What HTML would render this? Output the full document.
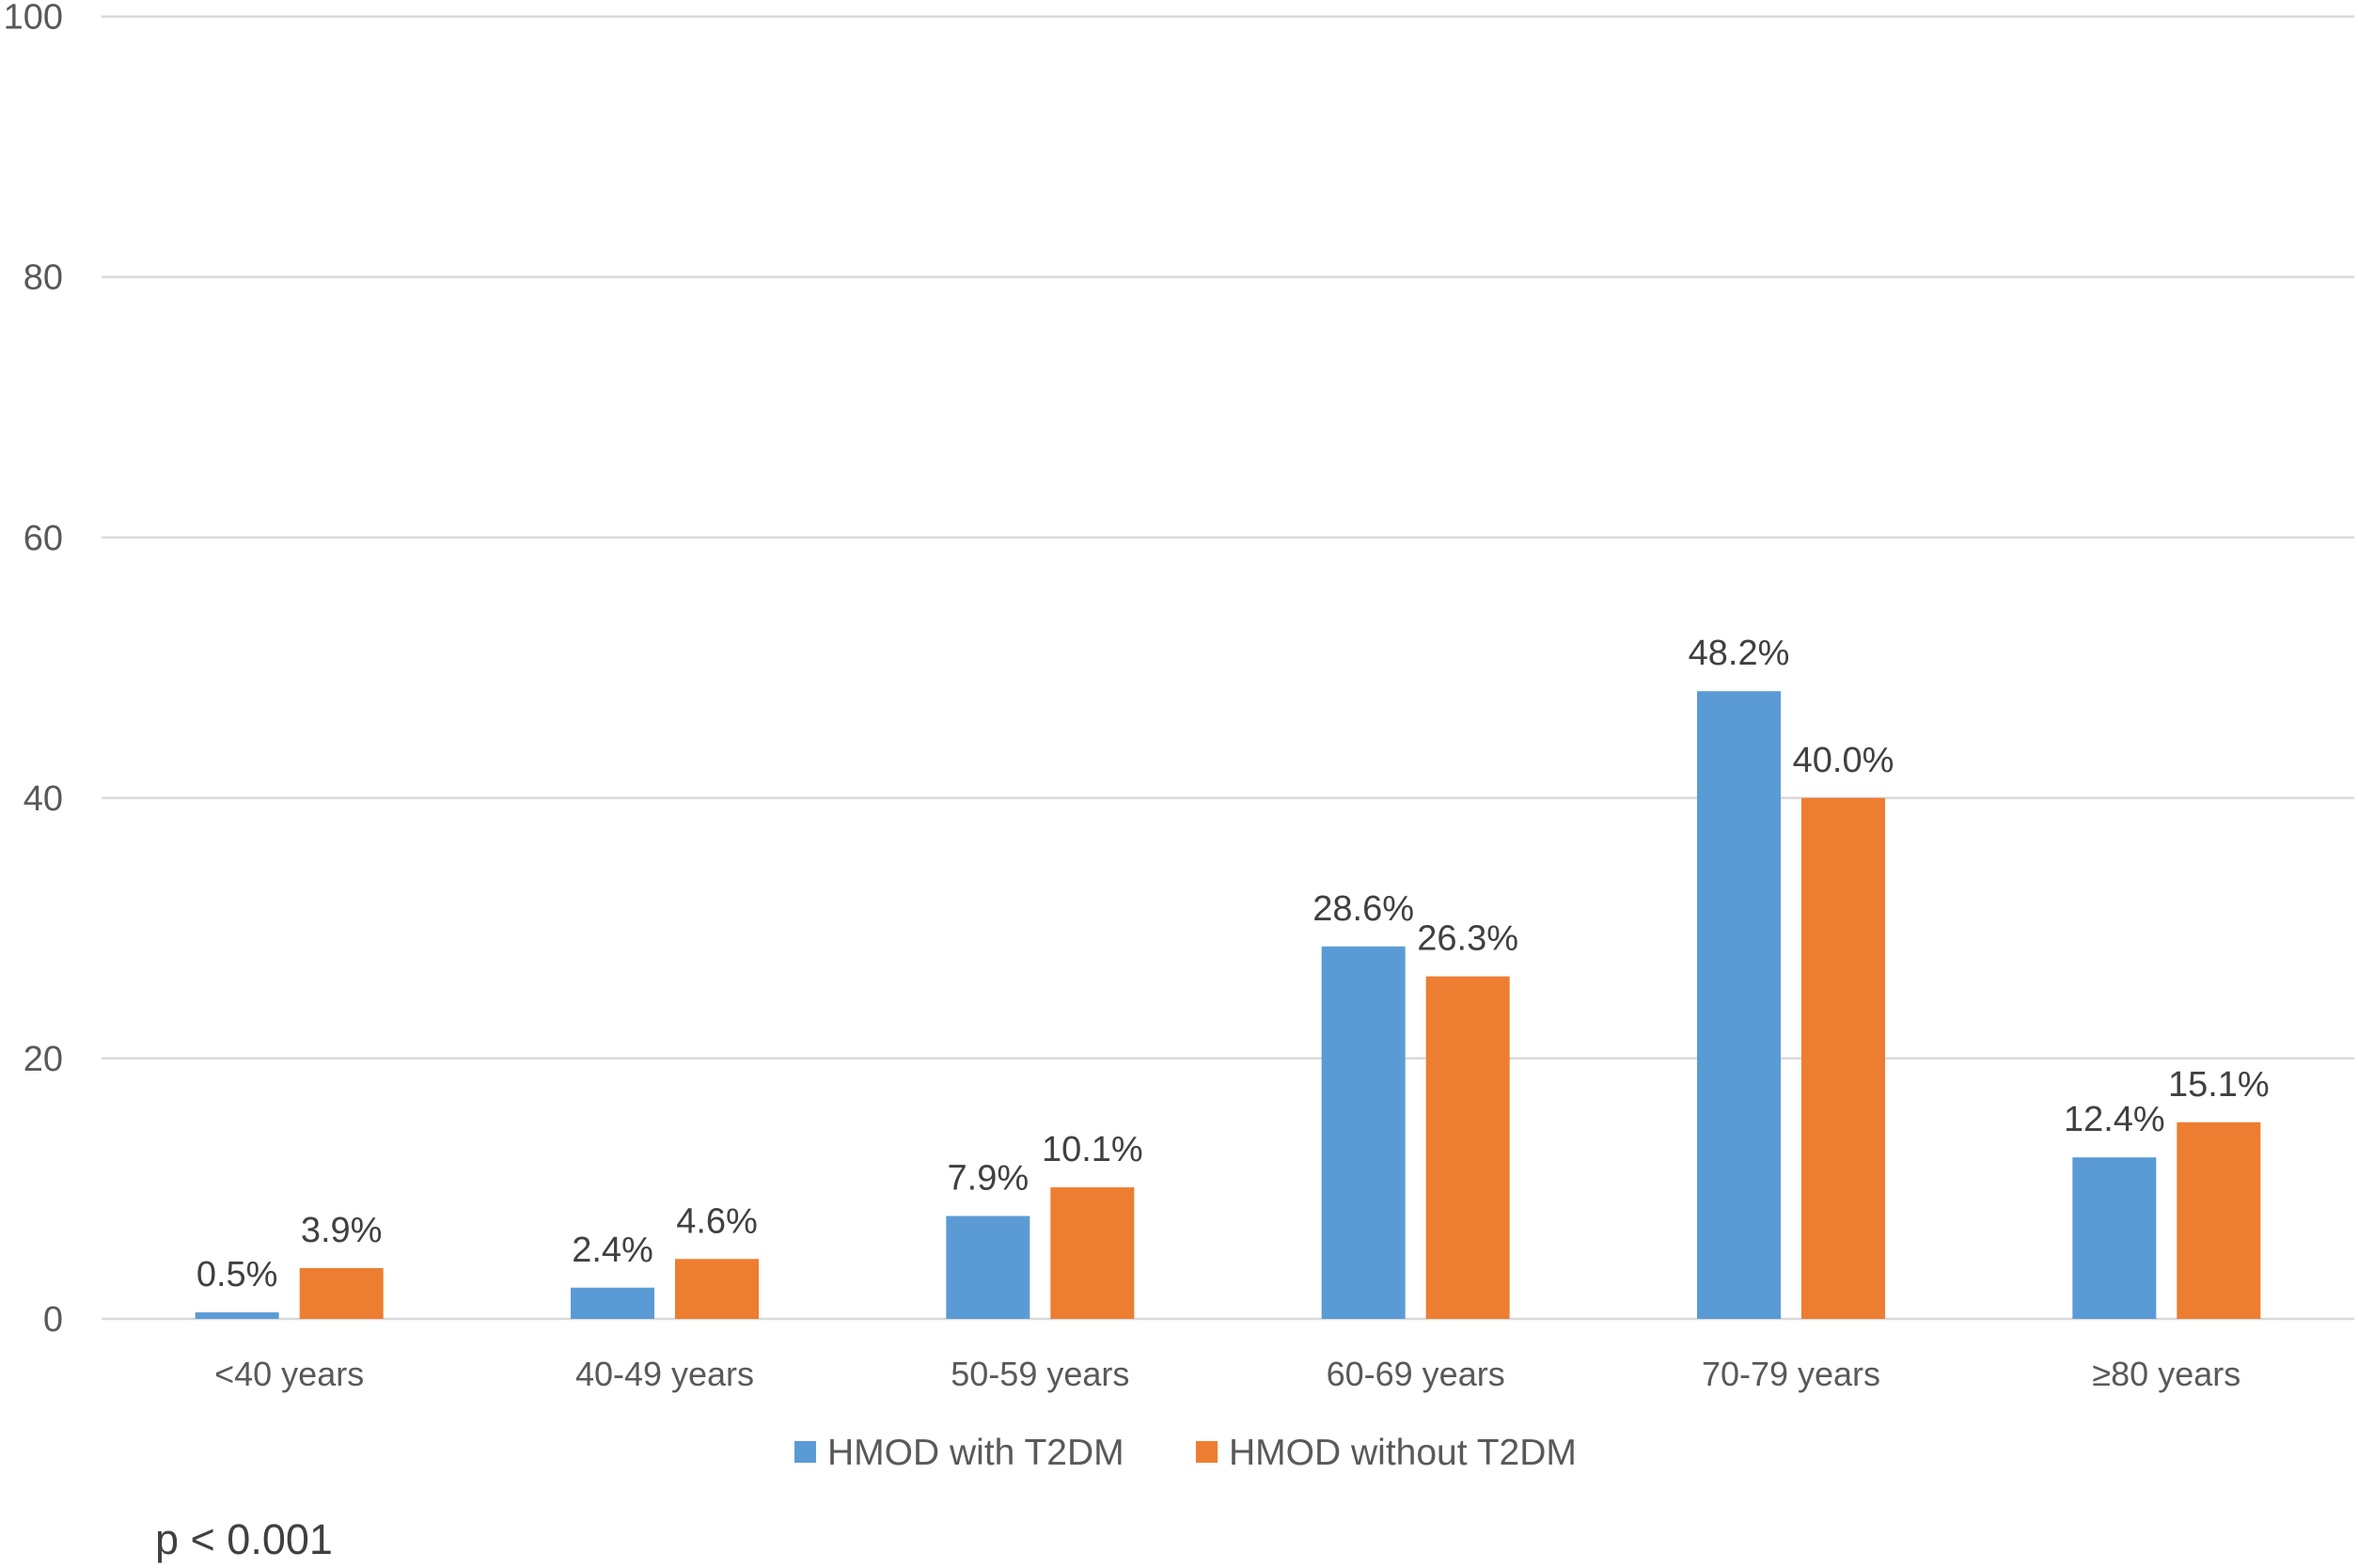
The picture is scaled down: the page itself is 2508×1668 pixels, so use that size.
<!DOCTYPE html>
<html><head><meta charset="utf-8"><style>
html,body{margin:0;padding:0;background:#fff;width:2508px;height:1668px;overflow:hidden}
svg{display:block;font-family:"Liberation Sans",Arial,sans-serif}
</style></head><body>
<svg id="chart" width="2508" height="1668" viewBox="0 0 2508 1668" xmlns="http://www.w3.org/2000/svg"></svg>
<script>
const categories = ["<40 years","40-49 years","50-59 years","60-69 years","70-79 years","\u226580 years"];
const withT2DM = [0.5,2.4,7.9,28.6,48.2,12.4];
const withoutT2DM = [3.9,4.6,10.1,26.3,40.0,15.1];
const yTicks = [0,20,40,60,80,100];
const seriesNames = ["HMOD with T2DM","HMOD without T2DM"];

const NS="http://www.w3.org/2000/svg";
const svgEl=document.getElementById('chart');
const plotLeft=108,plotRight=2504,plotTop=17.6,plotBottom=1403;
const yMax=100;
function yScale(v){return plotBottom-(v/yMax)*(plotBottom-plotTop);}
const bandW=(plotRight-plotLeft)/categories.length;
function xCenter(i){return plotLeft+bandW*(i+0.5);}
const barW=89,barGap=22;
function mk(tag,attrs,text){const e=document.createElementNS(NS,tag);for(const k in attrs)e.setAttribute(k,attrs[k]);if(text!==undefined)e.textContent=text;svgEl.appendChild(e);return e;}

yTicks.forEach(t=>{
  const g=mk('line',{x1:plotLeft,x2:plotRight,y1:yScale(t),y2:yScale(t),stroke:'#d9d9d9','stroke-width':2.5});
  
  
  const l=mk('text',{x:67,y:yScale(t)+13,'text-anchor':'end','font-size':38,fill:'#595959'},String(t));
  
  
});

const colors=['#5b9bd5','#ed7d31'];
[withT2DM,withoutT2DM].forEach((arr,s)=>{
  arr.forEach((v,i)=>{
    const cx=xCenter(i)+(s===0?-(barGap/2+barW/2):(barGap/2+barW/2));
    const r=mk('rect',{x:cx-barW/2,y:yScale(v),width:barW,height:plotBottom-yScale(v),fill:colors[s]});
    
    
    const t=mk('text',{x:cx,y:yScale(v)-28,'text-anchor':'middle','font-size':38,fill:'#404040'},v.toFixed(1)+'%');
    
    
  });
});

categories.forEach((c,i)=>{
  const t=mk('text',{x:xCenter(i),y:1474,'text-anchor':'middle','font-size':36,fill:'#595959'},c);
  
  
});

const legX=[845,1272];
seriesNames.forEach((n,s)=>{
  const r=mk('rect',{x:legX[s],y:1533,width:23,height:23,fill:colors[s]});
  
  
  const t=mk('text',{x:legX[s]+35,y:1558,'font-size':39,fill:'#595959'},n);
  
  
});

const pNote=mk('text',{x:165,y:1653,'font-size':45,fill:'#404040'},'p < 0.001');


</script>
</body></html>
